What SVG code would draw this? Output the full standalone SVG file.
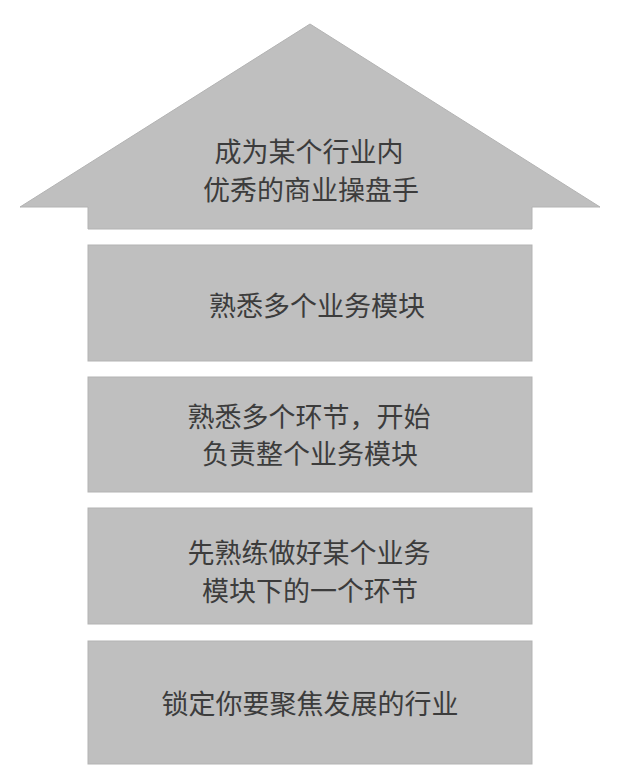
<svg xmlns="http://www.w3.org/2000/svg" width="640" height="779" viewBox="0 0 640 779">
  <style>
    .shape { fill: #bfbfbf; stroke: #b3b3b3; stroke-width: 1; }
    .label { font-family: "Noto Sans CJK SC", "Noto Sans", sans-serif; font-size: 27px; fill: #3c3c3c; text-anchor: middle; dominant-baseline: central; }
  </style>
  <rect width="640" height="779" fill="#ffffff"/>
  <g id="roof">
    <polygon class="shape" points="20,207 310,24 600,207 532,207 532,229 88,229 88,207"/>
    <text class="label" x="309" y="150">成为某个行业内</text>
    <text class="label" x="311" y="188">优秀的商业操盘手</text>
  </g>
  <g id="level4">
    <rect class="shape" x="88" y="245" width="444" height="116"/>
    <text class="label" x="317" y="304">熟悉多个业务模块</text>
  </g>
  <g id="level3">
    <rect class="shape" x="88" y="377" width="444" height="115"/>
    <text class="label" x="309" y="415">熟悉多个环节，开始</text>
    <text class="label" x="310" y="452">负责整个业务模块</text>
  </g>
  <g id="level2">
    <rect class="shape" x="88" y="508" width="444" height="116"/>
    <text class="label" x="309" y="551">先熟练做好某个业务</text>
    <text class="label" x="310" y="589">模块下的一个环节</text>
  </g>
  <g id="level1">
    <rect class="shape" x="88" y="641" width="444" height="123"/>
    <text class="label" x="310" y="702">锁定你要聚焦发展的行业</text>
  </g>
  <g id="connectors"></g>
</svg>
